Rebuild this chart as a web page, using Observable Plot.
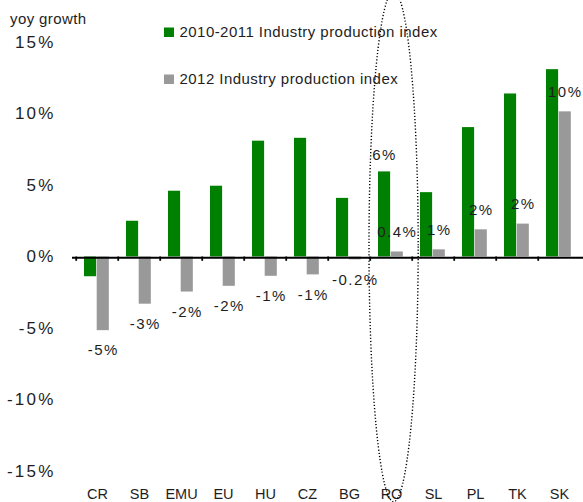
<!DOCTYPE html>
<html>
<head>
<meta charset="utf-8">
<script src="https://cdn.jsdelivr.net/npm/d3@7"></script>
<script src="https://cdn.jsdelivr.net/npm/@observablehq/plot@0.6"></script>
<style>
  html, body { margin: 0; padding: 0; background: #fff; }
  #chart svg { display: block; }
  g[aria-label="y-axis tick label"] text { font-size: 17px; letter-spacing: 2.2px; }
  g[aria-label="x-axis tick label"] text { font-size: 14.5px; }
</style>
</head>
<body>
<div id="chart"></div>
<script>
// ---- data ----
const countries = ["CR","SB","EMU","EU","HU","CZ","BG","RO","SL","PL","TK","SK"];
const growth20102011 = [-1.38, 2.5, 4.6, 4.95, 8.1, 8.3, 4.1, 5.95, 4.5, 9.05, 11.4, 13.1];
const growth2012 = [-5.15, -3.3, -2.45, -2.05, -1.35, -1.25, -0.2, 0.35, 0.5, 1.9, 2.3, 10.15];
const labels2012 = ["-5%","-3%","-2%","-2%","-1%","-1%","-0.2%","0.4%","1%","2%","2%","10%"];
const highlightCountries = ["RO"];
const highlightLabels = ["6%"];
const seriesNames = ["2010-2011 Industry production index", "2012 Industry production index"];
const seriesColors = ["#008000", "#999999"];
const yTicks = [-15, -10, -5, 0, 5, 10, 15];
const yTitle = "yoy growth";

// ---- layout ----
const W = 583, H = 502, mL = 72, mR = 0, mT = 42, mB = 31;
const bw = (W - mL - mR) / countries.length;
const font = "'Liberation Sans', Arial, Helvetica, sans-serif";

const rows = countries.map((c, i) => ({country: c, a: growth20102011[i], b: growth2012[i], label: labels2012[i]}));
const hl = highlightCountries.map((c, i) => ({country: c, a: growth20102011[countries.indexOf(c)], label: highlightLabels[i]}));

const greenL = 8, barW = 12.7;
const grayL = greenL + barW;

const chart = Plot.plot({
  width: W, height: H,
  marginLeft: mL, marginRight: mR, marginTop: mT, marginBottom: mB,
  style: {fontFamily: font, color: "#1e1e1e", background: "#fff", overflow: "visible"},
  x: {domain: countries, padding: 0, axis: null, label: null},
  y: {domain: [-15, 15], axis: null, label: null},
  marks: [
    Plot.barY(rows, {x: "country", y: "a", fill: seriesColors[0], insetLeft: greenL, insetRight: bw - greenL - barW}),
    Plot.barY(rows, {x: "country", y: "b", fill: seriesColors[1], insetLeft: grayL, insetRight: bw - grayL - barW}),
    Plot.ruleY([0], {stroke: "#000", strokeWidth: 2, dy: 0.8}),
    Plot.ruleX(countries, {x: d => d, y1: 0, y2: -0.3, dx: -bw / 2, stroke: "#000", strokeWidth: 1.8}),
    Plot.text(rows.filter(d => d.b < 0), {x: "country", y: "b", text: "label", dy: 20, dx: grayL + barW / 2 - bw / 2, fontSize: 15, fill: "#1e1e1e"}),
    Plot.text(rows.filter(d => d.b >= 0), {x: "country", y: "b", text: "label", dy: -20, dx: grayL + barW / 2 - bw / 2, fontSize: 15, fill: "#1e1e1e"}),
    Plot.text(hl, {x: "country", y: "a", text: "label", dy: -17, dx: greenL + barW / 2 - bw / 2, fontSize: 15, fill: "#1e1e1e"}),
    Plot.axisY({ticks: yTicks, tickFormat: d => d + "%", tickSize: 0, tickPadding: 17, fill: "#1e1e1e", label: null}),
    Plot.axisX({tickSize: 0, tickPadding: 17, fill: "#1e1e1e", label: null})
  ]
});

document.getElementById("chart").appendChild(chart);

// letter spacing on value labels
d3.select(chart).selectAll('g[aria-label="text"] text').style("letter-spacing", "1.5px");

const svg = d3.select(chart);
const xs = chart.scale("x"), ys = chart.scale("y");

// y title
svg.append("text").attr("x", 10).attr("y", 24).attr("text-anchor", "start")
  .attr("font-family", font).attr("font-size", 15).attr("fill", "#1e1e1e")
  .style("letter-spacing", "0.4px").text(yTitle);

// legend
const legendBaselines = [37, 84];
seriesNames.forEach((name, i) => {
  svg.append("rect").attr("x", 164).attr("y", legendBaselines[i] - 9.5).attr("width", 10).attr("height", 9.5)
    .attr("fill", seriesColors[i]);
  svg.append("text").attr("x", 179.5).attr("y", legendBaselines[i]).attr("text-anchor", "start")
    .attr("font-family", font).attr("font-size", 15).attr("fill", "#1e1e1e")
    .style("letter-spacing", "0.45px").text(name);
});

// dotted ellipse highlighting RO
const cx = xs.apply(highlightCountries[0]) + bw / 2 + 2.3;
const cy = ys.apply(0.7);
const ry = ys.apply(0.7 - 17.85) - cy;
svg.append("ellipse").attr("cx", cx).attr("cy", cy).attr("rx", 24.6).attr("ry", ry)
  .attr("fill", "none").attr("stroke", "#000").attr("stroke-width", 1.4)
  .attr("stroke-dasharray", "1.2 2").attr("stroke-linecap", "butt");
</script>
</body>
</html>
